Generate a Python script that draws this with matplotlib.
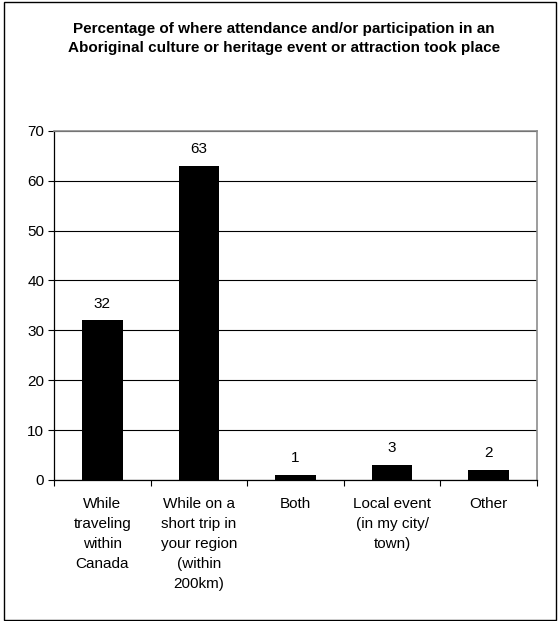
import matplotlib.pyplot as plt
import numpy as np
from matplotlib.patches import Rectangle

plt.rcParams["font.family"] = ["Liberation Sans", "DejaVu Sans"]

categories = [
    "While\ntraveling\nwithin\nCanada",
    "While on a\nshort trip in\nyour region\n(within\n200km)",
    "Both",
    "Local event\n(in my city/\ntown)",
    "Other",
]
values = [32, 63, 1, 3, 2]
y_ticks = [0, 10, 20, 30, 40, 50, 60, 70]
title = (
    "Percentage of where attendance and/or participation in an\n"
    "Aboriginal culture or heritage event or attraction took place"
)

fig = plt.figure(figsize=(5.58, 6.21), dpi=100)
ax = fig.add_axes([0.0968, 0.2271, 0.8656, 0.5624])

x = np.arange(len(values))
ax.bar(x, values, width=0.42, color="black", zorder=3)
for xi, v in zip(x, values):
    ax.annotate(
        f"{v}",
        (xi, v),
        xytext=(0, 7),
        textcoords="offset points",
        ha="center",
        va="bottom",
        fontsize=11,
    )

ax.set_xlim(-0.5, len(values) - 0.5)
ax.set_ylim(0, 70)
ax.set_yticks(y_ticks)
ax.yaxis.grid(True, color="black", linewidth=0.8, zorder=0)
ax.tick_params(axis="y", direction="out", length=4, width=0.8, pad=3, labelsize=11)

# category labels sit at bar centres, tick marks go between categories
ax.set_xticks(x)
ax.set_xticklabels(categories, fontsize=11, linespacing=1.55, va="top")
ax.tick_params(axis="x", which="major", length=0, pad=12)
ax.set_xticks(np.arange(len(values) + 1) - 0.5, minor=True)
ax.tick_params(axis="x", which="minor", direction="out", length=4, width=0.8)

for side in ("top", "right"):
    ax.spines[side].set_color("#8c8c8c")
    ax.spines[side].set_linewidth(1.2)
for side in ("left", "bottom"):
    ax.spines[side].set_color("black")
    ax.spines[side].set_linewidth(0.9)

fig.text(0.509, 1 - 38.5 / 621, title, ha="center", va="center",
         fontsize=11, fontweight="bold", linespacing=1.45)

# outer frame round the whole chart
fig.patches.append(Rectangle((3.5 / 558, 1.5 / 621), 552 / 558, 617.5 / 621,
                             transform=fig.transFigure, fill=False,
                             edgecolor="black", linewidth=1.0))

fig.savefig("out.png", dpi=100)
